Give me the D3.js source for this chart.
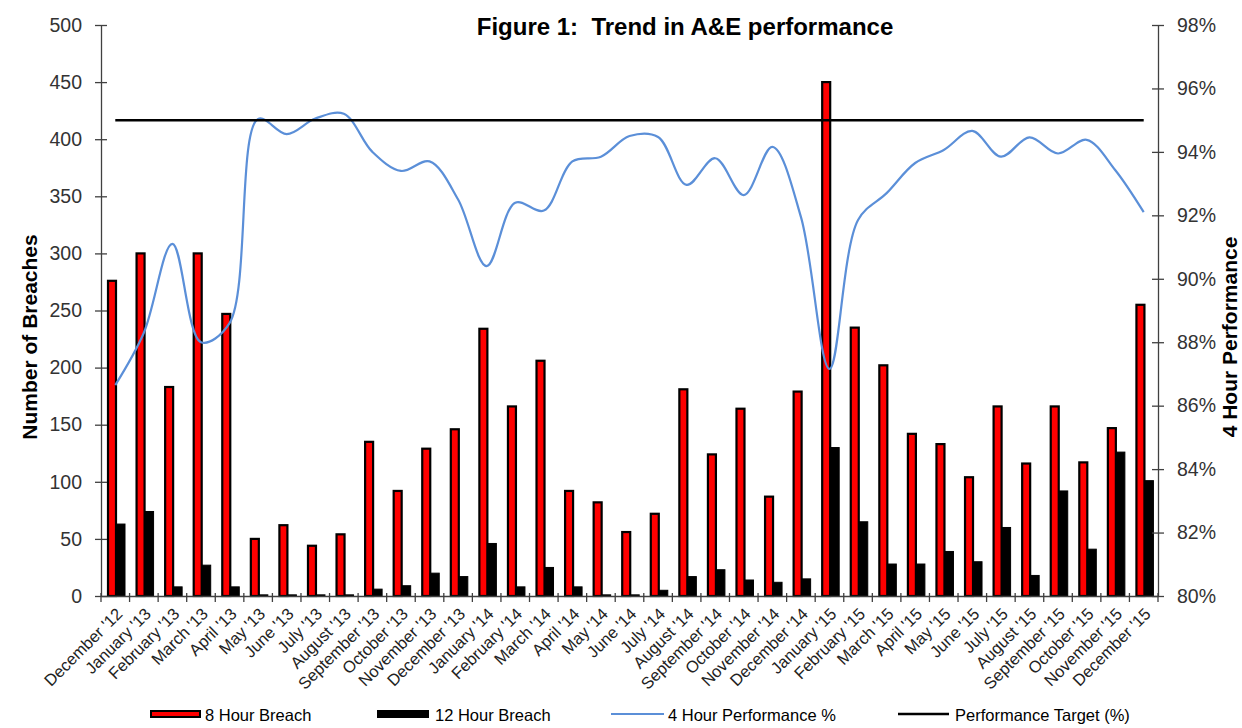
<!DOCTYPE html>
<html>
<head>
<meta charset="utf-8">
<script src="https://d3js.org/d3.v7.min.js"></script>
<style>
  body { margin: 0; background: #fff; }
  text { font-family: "Liberation Sans", Arial, sans-serif; }
</style>
</head>
<body>
<script>
// months on the x axis
var months = ["December '12", "January '13", "February '13", "March '13", "April '13", "May '13",
  "June '13", "July '13", "August '13", "September '13", "October '13", "November '13",
  "December '13", "January '14", "February '14", "March '14", "April '14", "May '14",
  "June '14", "July '14", "August '14", "September '14", "October '14", "November '14",
  "December '14", "January '15", "February '15", "March '15", "April '15", "May '15",
  "June '15", "July '15", "August '15", "September '15", "October '15", "November '15",
  "December '15"];

// 8 hour breaches
var breach8 = [276, 300, 183, 300, 247, 50, 62, 44, 54, 135, 92, 129,
  146, 234, 166, 206, 92, 82, 56, 72, 181, 124, 164, 87,
  179, 450, 235, 202, 142, 133, 104, 166, 116, 166, 117, 147, 255];

// 12 hour breaches
var breach12 = [63, 74, 8, 27, 8, 1, 1, 1, 1, 6, 9, 20,
  17, 46, 8, 25, 8, 1, 1, 5, 17, 23, 14, 12,
  15, 130, 65, 28, 28, 39, 30, 60, 18, 92, 41, 126, 101];

// 4 hour performance (%)
var perf4 = [86.65, 88.3, 91.1, 88.0, 88.6, 95.04, 94.56, 95.05, 95.2, 94.0, 93.4, 93.7,
  92.5, 90.4, 92.4, 92.15, 93.7, 93.85, 94.5, 94.47, 92.96, 93.8, 92.64, 94.16,
  91.95, 87.16, 91.85, 92.7, 93.65, 94.06, 94.66, 93.85, 94.46, 93.95, 94.38, 93.43, 92.1];

var target = 95;

var leftTicks = [0, 50, 100, 150, 200, 250, 300, 350, 400, 450, 500];
var rightTicks = [80, 82, 84, 86, 88, 90, 92, 94, 96, 98];

var width = 1242, height = 728;
var plotL = 101, plotR = 1158, plotT = 25, plotB = 596;

var svg = d3.select('body').append('svg')
  .attr('width', width)
  .attr('height', height);

var x = d3.scaleBand().domain(months).range([plotL, plotR]).paddingInner(0).paddingOuter(0);
var x1 = d3.scaleBand().domain(['b8', 'b12']).range([6, 24]).padding(0);
var y = d3.scaleLinear().domain([0, 500]).range([plotB, plotT]);
var y2 = d3.scaleLinear().domain([80, 98]).range([plotB, plotT]);

var axisColor = '#404040';

// bars
var groups = svg.append('g').selectAll('g')
  .data(months)
  .enter().append('g')
  .attr('transform', function(d) { return 'translate(' + x(d) + ',0)'; });

groups.append('rect')
  .attr('x', x1('b8') + 1)
  .attr('width', x1.bandwidth() - 1)
  .attr('y', function(d, i) { return y(breach8[i]); })
  .attr('height', function(d, i) { return y(0) - y(breach8[i]); })
  .attr('fill', '#ff0000')
  .attr('stroke', '#000')
  .attr('stroke-width', 2.2);

groups.append('rect')
  .attr('x', x1('b12'))
  .attr('width', x1.bandwidth())
  .attr('y', function(d, i) { return y(breach12[i]); })
  .attr('height', function(d, i) { return y(0) - y(breach12[i]); })
  .attr('fill', '#000')
  .attr('stroke', '#000')
  .attr('stroke-width', 1);

// left axis
var gl = svg.append('g')
  .attr('transform', 'translate(' + plotL + ',0)')
  .call(d3.axisLeft(y).tickValues(leftTicks).tickSize(6).tickPadding(13).tickSizeOuter(0));
gl.selectAll('.tick line').attr('x1', -6).attr('x2', 6);

// right axis
var gr = svg.append('g')
  .attr('transform', 'translate(' + plotR + ',0)')
  .call(d3.axisRight(y2).tickValues(rightTicks).tickSize(6).tickPadding(13).tickSizeOuter(0)
    .tickFormat(function(d) { return d + '%'; }));
gr.selectAll('.tick line').attr('x1', -6).attr('x2', 6);

[gl, gr].forEach(function(g) {
  g.select('.domain').attr('stroke', axisColor).attr('stroke-width', 1.3);
  g.selectAll('.tick line').attr('stroke', axisColor).attr('stroke-width', 1.3);
  g.selectAll('.tick text').attr('font-size', '19.5px').attr('fill', '#333')
    .attr('font-family', '"Liberation Sans", Arial, sans-serif');
});

// x axis
var gx = svg.append('g')
  .attr('transform', 'translate(0,' + plotB + ')')
  .call(d3.axisBottom(x).tickSize(0).tickSizeOuter(0));
gx.select('.domain').attr('stroke', axisColor).attr('stroke-width', 1.3);
gx.selectAll('.tick text')
  .attr('font-size', '16.5px')
  .attr('fill', '#222')
  .attr('font-family', '"Liberation Sans", Arial, sans-serif')
  .attr('text-anchor', 'end')
  .attr('x', 0).attr('y', 0).attr('dy', '0.35em')
  .attr('transform', 'translate(4,15) rotate(-45)');

var bounds = months.map(function(m) { return x(m); }).concat([x.range()[1]]);
gx.selectAll('line.bnd')
  .data(bounds)
  .enter().append('line')
  .attr('class', 'bnd')
  .attr('x1', function(d) { return d; })
  .attr('x2', function(d) { return d; })
  .attr('y1', -3).attr('y2', 6)
  .attr('stroke', axisColor)
  .attr('stroke-width', 1.3);

// lines
var cx = function(d, i) { return x(months[i]) + x.bandwidth() / 2; };

var perfLine = d3.line()
  .x(cx)
  .y(function(d) { return y2(d); })
  .curve(d3.curveCatmullRom.alpha(0.5));

svg.append('path')
  .datum(perf4)
  .attr('d', perfLine)
  .attr('fill', 'none')
  .attr('stroke', '#5b8fd8')
  .attr('stroke-width', 2.2);

var targetLine = d3.line()
  .x(cx)
  .y(function(d) { return y2(d); });

svg.append('path')
  .datum(months.map(function() { return target; }))
  .attr('d', targetLine)
  .attr('fill', 'none')
  .attr('stroke', '#000')
  .attr('stroke-width', 2.5);

// title
svg.append('text')
  .attr('x', 685).attr('y', 35)
  .attr('text-anchor', 'middle')
  .attr('font-size', '24px')
  .attr('font-weight', 'bold')
  .text('Figure 1:\u00a0 Trend in A&E performance');

// axis titles
svg.append('text')
  .attr('transform', 'translate(37,337) rotate(-90)')
  .attr('text-anchor', 'middle')
  .attr('font-size', '21px')
  .attr('font-weight', 'bold')
  .text('Number of Breaches');

svg.append('text')
  .attr('transform', 'translate(1237,337) rotate(-90)')
  .attr('text-anchor', 'middle')
  .attr('font-size', '21px')
  .attr('font-weight', 'bold')
  .text('4 Hour Performance');

// legend
var legend = svg.append('g').attr('font-size', '16.5px');
legend.append('rect').attr('x', 151).attr('y', 711).attr('width', 49).attr('height', 6)
  .attr('fill', '#ff0000').attr('stroke', '#000').attr('stroke-width', 2);
legend.append('text').attr('x', 205).attr('y', 721).text('8 Hour Breach');
legend.append('rect').attr('x', 377).attr('y', 710).attr('width', 52).attr('height', 8)
  .attr('fill', '#000');
legend.append('text').attr('x', 435).attr('y', 721).text('12 Hour Breach');
legend.append('line').attr('x1', 611).attr('x2', 664).attr('y1', 714).attr('y2', 714)
  .attr('stroke', '#5b8fd8').attr('stroke-width', 2.2);
legend.append('text').attr('x', 668).attr('y', 721).text('4 Hour Performance %');
legend.append('line').attr('x1', 898).attr('x2', 949).attr('y1', 714).attr('y2', 714)
  .attr('stroke', '#000').attr('stroke-width', 2.5);
legend.append('text').attr('x', 955).attr('y', 721).text('Performance Target (%)');
</script>
</body>
</html>
